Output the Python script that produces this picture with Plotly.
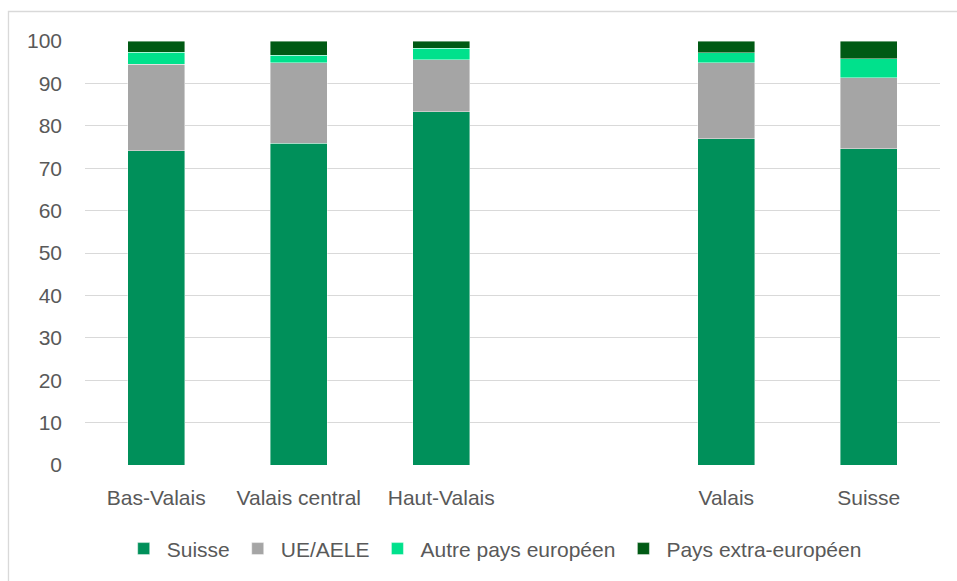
import plotly.graph_objects as go

# Regions (a blank slot separates the regions from the totals)
categories = ["Bas-Valais", "Valais central", "Haut-Valais", "", "Valais", "Suisse"]

# Share of population by origin, in %
suisse = [74.1, 75.9, 83.3, None, 77.0, 74.6]
ue_aele = [20.4, 19.0, 12.3, None, 17.9, 16.7]
autre_europe = [2.9, 1.7, 2.7, None, 2.3, 4.5]
extra_europe = [2.6, 3.4, 1.7, None, 2.8, 4.2]

series = [
    ("Suisse", suisse, "#00905A"),
    ("UE/AELE", ue_aele, "#A5A5A5"),
    ("Autre pays européen", autre_europe, "#00E18C"),
    ("Pays extra-européen", extra_europe, "#005A14"),
]

positions = list(range(len(categories)))
y_ticks = list(range(0, 101, 10))

FONT = "Liberation Sans"
TEXT = "#595959"
SIZE = 21

fig = go.Figure()
for name, values, color in series:
    fig.add_trace(go.Bar(
        x=positions,
        y=values,
        name=name,
        marker=dict(color=color, line=dict(color="rgba(255,255,255,0.7)", width=0.6)),
        hoverinfo="x+y+name",
    ))

fig.update_layout(
    barmode="stack",
    bargap=0.6,
    width=957,
    height=581,
    margin=dict(l=85, r=17, t=41, b=116),
    paper_bgcolor="white",
    plot_bgcolor="white",
    font=dict(family=FONT, size=SIZE, color=TEXT),
    showlegend=True,
    legend=dict(
        orientation="h",
        x=0.478, xanchor="center",
        y=-0.198, yanchor="middle",
        font=dict(family=FONT, size=SIZE, color=TEXT),
        itemwidth=36,
        tracegroupgap=0,
        traceorder="normal",
    ),
    xaxis=dict(
        tickmode="array",
        tickvals=positions,
        ticktext=categories,
        range=[-0.5, len(categories) - 0.5],
        showgrid=False,
        zeroline=False,
        showline=False,
        ticks="",
        ticklabelstandoff=18,
        tickfont=dict(family=FONT, size=SIZE, color=TEXT),
    ),
    yaxis=dict(
        range=[0, 100],
        tickvals=y_ticks,
        showgrid=True,
        gridcolor="#D9D9D9",
        gridwidth=1.3,
        zeroline=False,
        showline=False,
        ticks="",
        ticklabelstandoff=22,
        tickfont=dict(family=FONT, size=SIZE, color=TEXT),
    ),
    shapes=[
        dict(
            type="rect", xref="paper", yref="paper",
            x0=-0.0895, x1=1.03, y0=-0.3, y1=1.0696,
            line=dict(color="#D9D9D9", width=1.3),
            fillcolor="rgba(0,0,0,0)",
            layer="below",
        )
    ],
)

fig.write_html("out.html")
